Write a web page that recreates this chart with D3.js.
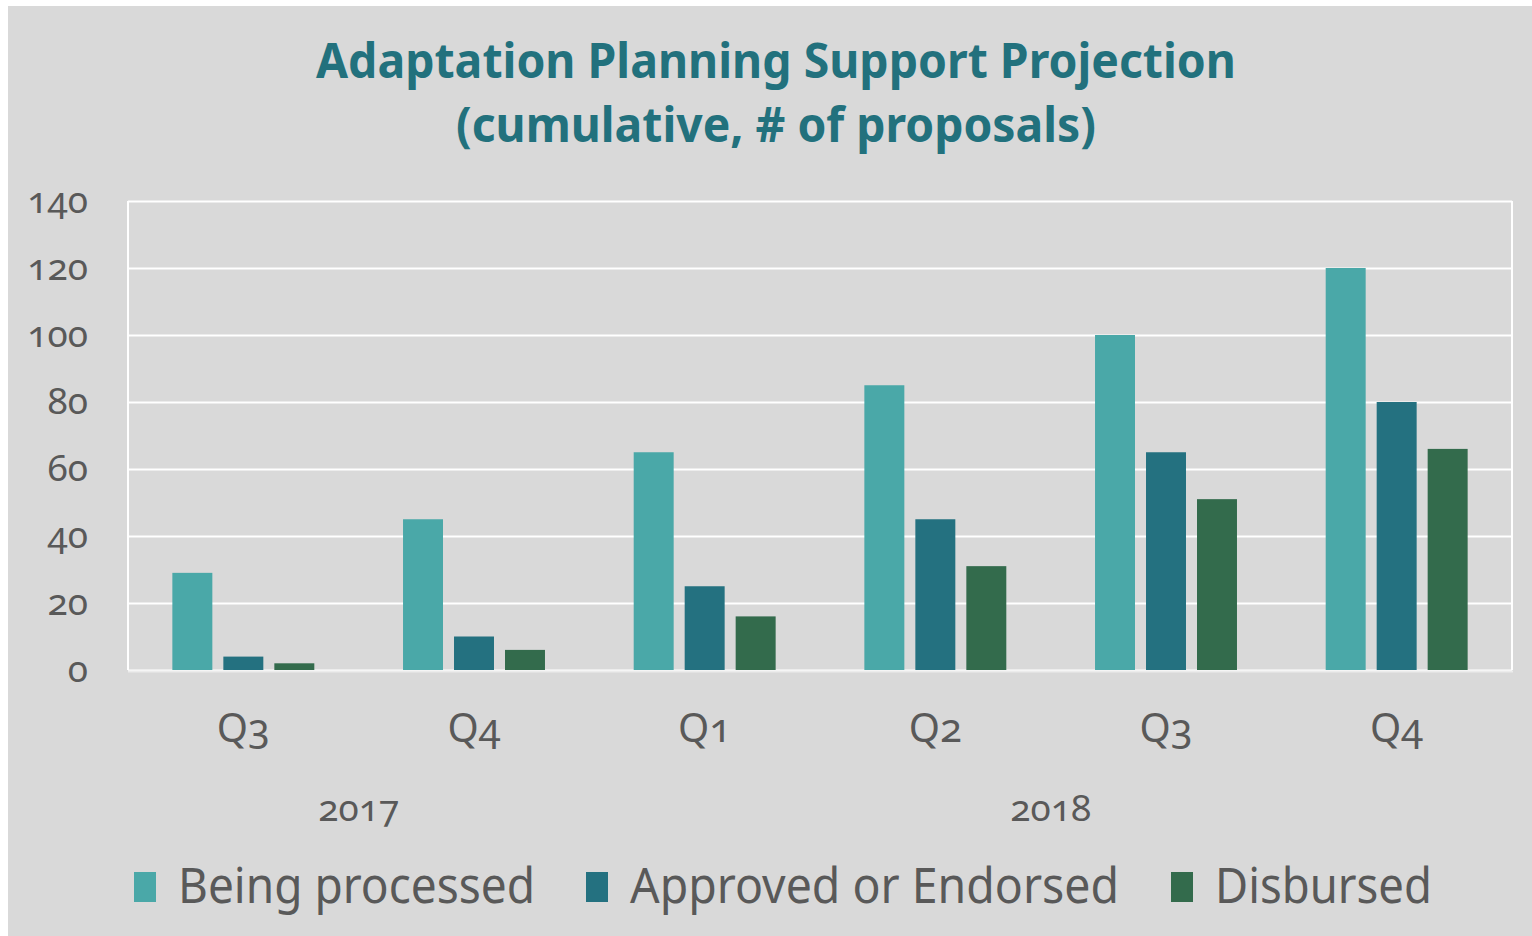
<!DOCTYPE html>
<html><head><meta charset="utf-8">
<script src="https://cdn.jsdelivr.net/npm/d3@7"></script>
<style>
html,body{margin:0;padding:0;background:#fff;}
svg text{font-family:"Noto Sans","Open Sans",sans-serif;font-variant-numeric:oldstyle-nums;font-feature-settings:"onum" 1;}
</style></head>
<body>
<svg id="chart" width="1532" height="936"></svg>
<script>
const quarters = ["Q3","Q4","Q1","Q2","Q3","Q4"];
const years = ["2017","2017","2018","2018","2018","2018"];
const seriesNames = ["Being processed","Approved or Endorsed","Disbursed"];
const beingProcessed = [29,45,65,85,100,120];
const approved = [4,10,25,45,65,80];
const disbursed = [2,6,16,31,51,66];
const yTicks = [0,20,40,60,80,100,120,140];
const colors = ["#4aa8a8","#247180","#336b4c"];
const titleLines = ["Adaptation Planning Support Projection","(cumulative, # of proposals)"];

const svg = d3.select("#chart");
const W = 1532, H = 936;
const m = {left:128, right:1512, top:201, bottom:670};
const textColor = "#595959";

svg.append("rect").attr("x",8).attr("y",6).attr("width",W-8).attr("height",H-6).attr("fill","#d9d9d9");

const idx = quarters.map((q,i)=>i);
const x0 = d3.scaleBand().domain(idx).range([m.left,m.right]).padding(0);
const x1 = d3.scaleBand().domain(seriesNames).range([0,x0.bandwidth()]).paddingInner(0.216).paddingOuter(0.87);
const y = d3.scaleLinear().domain([0,140]).range([m.bottom,m.top]);

// gridlines
const yAxis = d3.axisLeft(y).tickValues(yTicks).tickSize(-(m.right-m.left)).tickFormat(d3.format("d"));
const ga = svg.append("g").attr("transform",`translate(${m.left},0)`).call(yAxis);
ga.select(".domain").remove();
ga.selectAll(".tick line").attr("stroke","#ffffff").attr("stroke-width",2).attr("x1",0);
ga.selectAll(".tick text").attr("fill",textColor).attr("font-size",37).attr("x",-40).attr("dy","0.3em");
// verticals
svg.append("line").attr("x1",m.left).attr("x2",m.left).attr("y1",m.top).attr("y2",m.bottom).attr("stroke","#fff").attr("stroke-width",2);
svg.append("line").attr("x1",m.right).attr("x2",m.right).attr("y1",m.top).attr("y2",m.bottom).attr("stroke","#fff").attr("stroke-width",2);

// bars
const data = [beingProcessed, approved, disbursed];
const groups = svg.append("g").selectAll("g").data(idx).join("g").attr("transform",d=>`translate(${x0(d)},0)`);
groups.selectAll("rect").data(i=>seriesNames.map((s,k)=>({s,k,v:data[k][i]}))).join("rect")
  .attr("x",d=>x1(d.s)).attr("width",x1.bandwidth())
  .attr("y",d=>y(d.v)).attr("height",d=>y(0)-y(d.v))
  .attr("fill",d=>colors[d.k]);

// bottom axis line
svg.append("line").attr("x1",m.left).attr("x2",m.right+1).attr("y1",m.bottom+1.5).attr("y2",m.bottom+1.5).attr("stroke","#ececec").attr("stroke-width",2);

// quarter labels
svg.append("g").selectAll("text").data(idx).join("text")
  .attr("x",d=>x0(d)+x0.bandwidth()/2).attr("y",742)
  .attr("text-anchor","middle").attr("fill",textColor).attr("font-size",40)
  .text(d=>quarters[d]);

// year labels
const yearGroups = d3.groups(idx, i=>years[i]);
svg.append("g").selectAll("text").data(yearGroups).join("text")
  .attr("x",d=>(x0(d[1][0]) + x0(d[1][d[1].length-1]) + x0.bandwidth())/2)
  .attr("y",821).attr("text-anchor","middle").attr("fill",textColor).attr("font-size",37)
  .text(d=>d[0]);

// title
const titleWidths = [920, 640];
svg.append("g").selectAll("text").data(titleLines).join("text")
  .attr("x",776).attr("y",(d,i)=>78+i*64).attr("text-anchor","middle")
  .attr("fill","#22717d").attr("font-weight","bold").attr("font-size",48)
  .attr("textLength",(d,i)=>titleWidths[i]).attr("lengthAdjust","spacingAndGlyphs")
  .text(d=>d);

// legend
const legX = [134,586,1171];
const legTextW = [357,489,217];
const lg = svg.append("g").selectAll("g").data(seriesNames).join("g");
lg.append("rect").attr("x",(d,i)=>legX[i]).attr("y",872).attr("width",22).attr("height",30).attr("fill",(d,i)=>colors[i]);
lg.append("text").attr("x",(d,i)=>legX[i]+44).attr("y",903).attr("fill",textColor).attr("font-size",49)
  .attr("textLength",(d,i)=>legTextW[i]).attr("lengthAdjust","spacingAndGlyphs").text(d=>d);
</script>
</body></html>
